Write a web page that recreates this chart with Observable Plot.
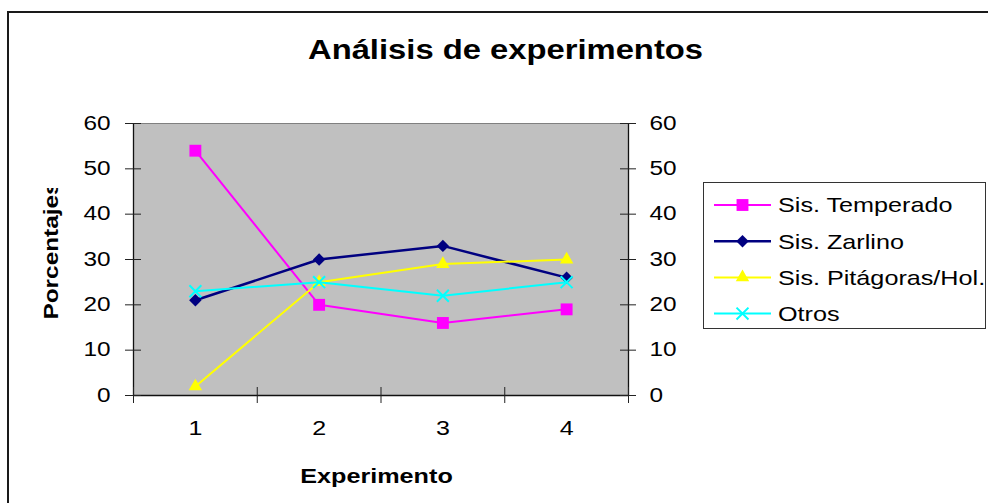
<!DOCTYPE html>
<html><head><meta charset="utf-8">
<script src="https://cdn.jsdelivr.net/npm/d3@7"></script>
<script src="https://cdn.jsdelivr.net/npm/@observablehq/plot@0.6"></script>
<style>
html,body{margin:0;padding:0;background:#fff;overflow:hidden;}
#wrap{position:relative;width:988px;height:503px;overflow:hidden;font-family:"Liberation Sans",Arial,sans-serif;}
#wrap > svg{position:absolute;left:0;top:0;}
#frame{position:absolute;left:7px;top:11px;width:1100px;height:600px;border-left:2px solid #1a1a1a;border-top:2px solid #1a1a1a;pointer-events:none;}
</style></head><body><div id="wrap"><div id="frame"></div></div>
<script>
// ---- data ----
const experiments = [1, 2, 3, 4];
const xTickLabels = ["1", "2", "3", "4"];
const seriesNames = ["Sis. Temperado", "Sis. Zarlino", "Sis. Pitágoras/Hol.", "Otros"];
const temperado = [54, 20, 16, 19];
const zarlino = [21, 30, 33, 26];
const pitagoras = [2, 25, 29, 30];
const otros = [23, 25, 22, 25];
const yTicks = [0, 10, 20, 30, 40, 50, 60];
const title = "Análisis de experimentos";
const yLabel = "Porcentajes";
const xLabel = "Experimento";

// ---- styles ----
const seriesColors = ["#ff00ff", "#000080", "#ffff00", "#00ffff"];
const seriesWidths = [2, 2.5, 2, 2];
const seriesSymbols = ["square", "diamond2", "triangle", "times"];
const symbolRadii = [6.7, 5.6, 5, 5.5];
const d3Symbols = {square: d3.symbolSquare, diamond2: d3.symbolDiamond2, triangle: d3.symbolTriangle, times: d3.symbolTimes};

const seriesValues = [temperado, zarlino, pitagoras, otros];
const rows = seriesNames.flatMap((s, i) => experiments.map((e, j) => ({serie: s, exp: e, value: seriesValues[i][j]})));
const xBounds = d3.range(experiments.length + 1).map(k => experiments[0] - 0.5 + k);

const seriesMarks = seriesNames.flatMap((s, i) => {
  const d = rows.filter(r => r.serie === s);
  const sym = seriesSymbols[i];
  const filled = sym !== "times";
  return [
    Plot.line(d, {x: "exp", y: "value", stroke: seriesColors[i], strokeWidth: seriesWidths[i]}),
    Plot.dot(d, {x: "exp", y: "value", symbol: sym, r: symbolRadii[i],
      fill: filled ? seriesColors[i] : "none", stroke: filled ? "none" : seriesColors[i], strokeWidth: filled ? 0 : 2})
  ];
});

const chart = Plot.plot({
  width: 988, height: 503,
  marginLeft: 133, marginRight: 360, marginTop: 123, marginBottom: 108,
  style: {fontFamily: '"Liberation Sans", Arial, sans-serif', background: "transparent", color: "#000", overflow: "visible"},
  x: {type: "linear", domain: [xBounds[0], xBounds[xBounds.length - 1]]},
  y: {domain: [0, 60]},
  marks: [
    Plot.frame({fill: "#c0c0c0", stroke: "#808080"}),
    Plot.ruleX([xBounds[0], xBounds[xBounds.length - 1]], {stroke: "#111", strokeWidth: 1.3}),
    Plot.ruleY([0], {stroke: "#111", strokeWidth: 1.6}),
    Plot.ruleY(yTicks, {y: d => d, x1: xBounds[0], x2: xBounds[0], insetLeft: -8, insetRight: -8, stroke: "#222"}),
    Plot.ruleY(yTicks, {y: d => d, x1: xBounds[xBounds.length - 1], x2: xBounds[xBounds.length - 1], insetLeft: -8, insetRight: -8, stroke: "#222"}),
    Plot.ruleX(xBounds, {x: d => d, y1: 0, y2: 0, insetTop: -8, insetBottom: -8, stroke: "#222"}),
    Plot.axisY(yTicks, {anchor: "left", tickSize: 0, tickPadding: 23, fontSize: 19.5, label: null}),
    Plot.axisY(yTicks, {anchor: "right", tickSize: 0, tickPadding: 21, fontSize: 19.5, label: null}),
    Plot.axisX(experiments, {anchor: "bottom", tickSize: 0, tickPadding: 25, fontSize: 20, label: null,
      tickFormat: d => xTickLabels[experiments.indexOf(d)]}),
    ...seriesMarks,
    Plot.text([title], {frameAnchor: "top-left", dx: 372, dy: -65, textAnchor: "middle", lineAnchor: "bottom",
      fontSize: 28, fontWeight: "bold"}),
    Plot.text([yLabel], {frameAnchor: "top-left", dx: -76, dy: 196, rotate: -90, textAnchor: "start", lineAnchor: "bottom",
      fontSize: 21, fontWeight: "bold"}),
    Plot.text([xLabel], {frameAnchor: "top-left", dx: 243, dy: 359, textAnchor: "middle", lineAnchor: "bottom",
      fontSize: 20, fontWeight: "bold"})
  ]
});

const allText = Array.from(chart.querySelectorAll("text"));
function addScale(t, s) {
  t.setAttribute("transform", (t.getAttribute("transform") || "") + ` scale(${s},1)`);
}
function byContent(str) { return allText.filter(t => t.textContent === str); }
chart.querySelectorAll('g[aria-label="y-axis tick label"] text').forEach(t => addScale(t, 1.25));
chart.querySelectorAll('g[aria-label="x-axis tick label"] text').forEach(t => addScale(t, 1.25));
byContent(title).forEach(t => addScale(t, 1.17));
byContent(yLabel).forEach(t => addScale(t, 1.16));
byContent(xLabel).forEach(t => addScale(t, 1.26));

// clip the y title like the original (truncated last letter)
d3.select(chart).append("defs").append("clipPath").attr("id", "ytclip")
  .append("rect").attr("x", 0).attr("y", 188).attr("width", 133).attr("height", 315);
byContent(yLabel).forEach(t => {
  const yt = t.parentNode;
  const wrapG = document.createElementNS("http://www.w3.org/2000/svg", "g");
  wrapG.setAttribute("clip-path", "url(#ytclip)");
  yt.parentNode.insertBefore(wrapG, yt);
  wrapG.appendChild(yt);
});

document.getElementById("wrap").appendChild(chart);

// ---- legend ----
const leg = d3.create("svg").attr("width", 284).attr("height", 148)
  .style("position", "absolute").style("left", "703px").style("top", "182px")
  .style("font-family", '"Liberation Sans", Arial, sans-serif');
leg.append("rect").attr("x", 0.5).attr("y", 0.5).attr("width", 282).attr("height", 146)
  .attr("fill", "white").attr("stroke", "#333");
seriesNames.forEach((s, i) => {
  const cy = 23 + i * 36.2;
  const g = leg.append("g").attr("transform", `translate(0,${cy})`);
  g.append("line").attr("x1", 11).attr("x2", 68).attr("y1", 0).attr("y2", 0)
    .attr("stroke", seriesColors[i]).attr("stroke-width", seriesWidths[i]);
  const filled = seriesSymbols[i] !== "times";
  g.append("path").attr("transform", "translate(39.5,0)")
    .attr("d", d3.symbol(d3Symbols[seriesSymbols[i]], Math.PI * symbolRadii[i] ** 2)())
    .attr("fill", filled ? seriesColors[i] : "none")
    .attr("stroke", filled ? "none" : seriesColors[i]).attr("stroke-width", 2);
  g.append("text").attr("transform", "translate(75,7.3) scale(1.26,1)")
    .attr("font-size", 20).attr("fill", "#000").text(s);
});
document.getElementById("wrap").appendChild(leg.node());
</script>
</body></html>
